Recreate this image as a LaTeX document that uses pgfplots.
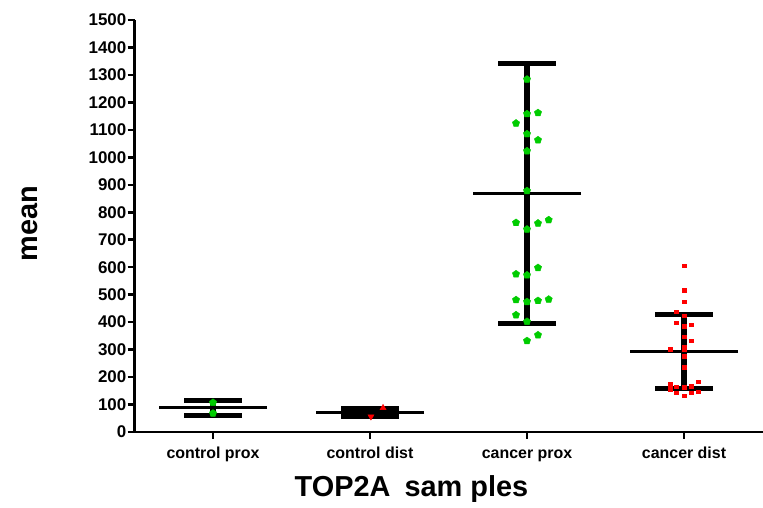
\documentclass[border=0pt]{standalone}
\usepackage{fontspec}
\setmainfont{Liberation Sans}
\usepackage{pgfplots}
\usepackage{pgfplotstable}
\pgfplotsset{compat=1.18}
\definecolor{pgreen}{RGB}{0,204,0}
\definecolor{pred}{RGB}{255,0,0}
\pgfplotstableread{
x mean sd
1 88 28
2 72 14
3 869 474
4 293 136
}\summary
\pgfplotstableread{
x y
1 107
1 68
}\ctrlprox
\pgfplotstableread{
x y
2.083 88
}\ctrldistup
\pgfplotstableread{
x y
2.006 56
}\ctrldistdown
\pgfplotstableread{
x y
3.000 1284
3.000 1158
3.070 1162
2.930 1124
3.000 1085
3.070 1063
3.000 1023
3.000 878
2.930 762
3.000 738
3.070 760
3.138 772
2.930 575
3.000 571
3.070 598
2.930 481
3.000 474
3.070 478
3.138 483
2.930 426
3.000 402
3.000 332
3.070 353
}\cancerprox
\pgfplotstableread{
x y
4.000 605
4.000 517
4.000 474
3.949 438
4.000 423
3.949 398
4.045 390
4.000 386
4.000 347
4.045 332
4.000 311
3.911 302
4.000 299
4.000 277
4.000 236
3.911 175
4.089 183
3.949 165
4.000 163
4.045 167
3.911 155
3.949 143
4.045 143
4.089 147
4.000 132
}\cancerdist
\begin{document}
\begin{tikzpicture}[x=1bp,y=1bp]
\useasboundingbox (0,0) rectangle (763,508);
\begin{axis}[
  at={(134.5bp,76bp)}, anchor=south west,
  scale only axis, width=628bp, height=412bp,
  xmin=0.5, xmax=4.5, ymin=0, ymax=1500,
  axis x line*=bottom, axis y line*=left,
  axis line style={line width=2.5bp, -},
  xtick={1,2,3,4},
  xticklabels={control prox, control dist, cancer prox, cancer dist},
  ytick={0,100,...,1500},
  tick align=outside, major tick length=7bp,
  tick style={black, line width=2.5bp},
  /pgf/number format/assume math mode=true,
  /pgf/number format/1000 sep={},
  xticklabel style={font=\bfseries\fontsize{16}{16}\selectfont, inner sep=0bp, text height=11.5bp, text depth=3.5bp, yshift=-8bp},
  yticklabel style={font=\bfseries\fontsize{17}{17}\selectfont, inner sep=1bp},
  xlabel={TOP2A\hspace{14bp}sam ples},
  xlabel style={font=\bfseries\fontsize{29}{29}\selectfont, at={(axis description cs:0.441,0)}, anchor=north, inner sep=0pt, yshift=-43bp},
  ylabel={mean},
  ylabel style={font=\bfseries\fontsize{29}{29}\selectfont, at={([xshift=-105bp]axis description cs:0,0.505)}, anchor=center, inner sep=0pt},
  clip=false,
]
\addplot[only marks, mark=-, mark size=54bp, mark options={line width=3bp, black},
  error bars/.cd, y dir=both, y explicit,
  error bar style={line width=5.5bp, black},
  error mark=|, error mark options={line width=5bp, mark size=29bp, black}]
  table[x=x, y=mean, y error=sd] {\summary};
\addplot[only marks, mark=pentagon*, mark size=3.8bp, color=pgreen] table {\ctrlprox};
\addplot[only marks, mark=triangle*, mark size=3.5bp, color=pred] table {\ctrldistup};
\addplot[only marks, mark=triangle*, mark size=3.5bp, color=pred, mark options={rotate=180}] table {\ctrldistdown};
\addplot[only marks, mark=pentagon*, mark size=3.8bp, color=pgreen] table {\cancerprox};
\addplot[only marks, mark=square*, mark size=1.8bp, color=pred] table {\cancerdist};
\end{axis}
\end{tikzpicture}
\end{document}
